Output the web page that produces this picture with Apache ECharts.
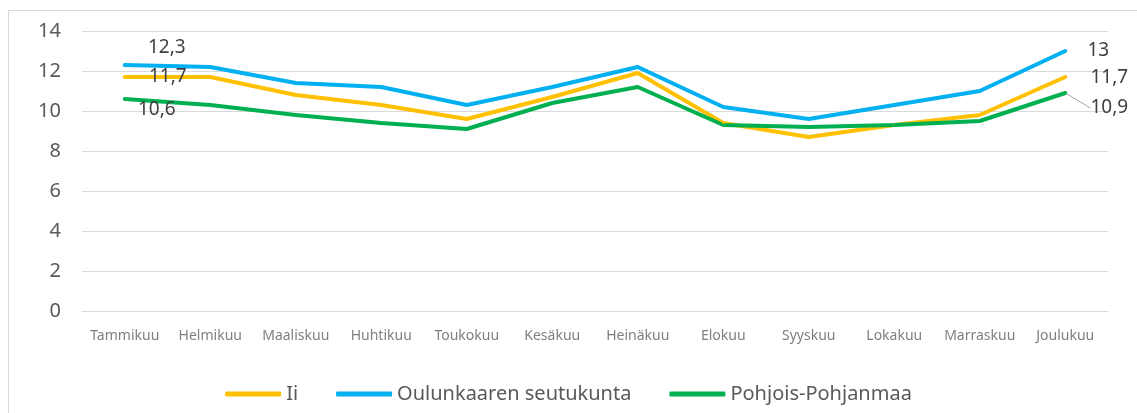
<!DOCTYPE html>
<html>
<head>
<meta charset="utf-8">
<script src="https://cdn.jsdelivr.net/npm/echarts@6/dist/echarts.min.js"></script>
<style>
  html, body { margin: 0; padding: 0; background: #fff; }
  /* kehys kaavion ympärillä */
  #frame {
    position: absolute; left: 8px; top: 10px; width: 1129px; height: 403px;
    border-left: 1px solid #d9d9d9; border-top: 1px solid #d9d9d9;
  }
  #chart { position: absolute; left: 0; top: 0; width: 1137px; height: 413px; }
</style>
</head>
<body>
<div id="frame"></div>
<div id="chart"></div>
<script>
const months = ["Tammikuu", "Helmikuu", "Maaliskuu", "Huhtikuu", "Toukokuu", "Kesäkuu",
  "Heinäkuu", "Elokuu", "Syyskuu", "Lokakuu", "Marraskuu", "Joulukuu"];
const ii = [11.7, 11.7, 10.8, 10.3, 9.6, 10.7, 11.9, 9.4, 8.7, 9.3, 9.8, 11.7];
const oulunkaari = [12.3, 12.2, 11.4, 11.2, 10.3, 11.2, 12.2, 10.2, 9.6, 10.3, 11.0, 13];
const pohjois = [10.6, 10.3, 9.8, 9.4, 9.1, 10.4, 11.2, 9.3, 9.2, 9.3, 9.5, 10.9];
const yTicks = [0, 2, 4, 6, 8, 10, 12, 14];

const fmt = v => String(v).replace(".", ",");

// label vain ensimmäiseen ja viimeiseen pisteeseen
function withLabels(values, firstOffset, lastOffset) {
  return values.map((v, i) => {
    if (i === 0 || i === values.length - 1) {
      const off = i === 0 ? firstOffset : lastOffset;
      return {
        value: v,
        label: {
          show: true, position: "inside", offset: off,
          formatter: p => fmt(p.value),
          color: "#404040", fontSize: 19, fontFamily: "Noto Sans"
        }
      };
    }
    return v;
  });
}

function lineSeries(name, color, data) {
  return {
    name: name,
    type: "line",
    data: data,
    symbol: "circle",
    symbolSize: 2,
    itemStyle: { color: color },
    lineStyle: { width: 4, color: color, cap: "round", join: "round" },
    emphasis: { disabled: true },
    animation: false
  };
}

const chart = echarts.init(document.getElementById("chart"));

// vihreän sarjan labelit siirretään labelLayoutilla, viimeiseen ohjausviiva
const greenData = withLabels(pohjois, [0, 0], [0, 0]);
greenData[greenData.length - 1].labelLine = {
  show: true, lineStyle: { color: "#a6a6a6", width: 1 }
};

const greenSeries = lineSeries("Pohjois-Pohjanmaa", "#00b050", greenData);
greenSeries.labelLayout = p => {
  if (p.dataIndex === 0) return { dx: 32, dy: 11 };
  if (p.dataIndex === pohjois.length - 1) return { dx: 44, dy: 15 };
  return {};
};

chart.setOption({
  backgroundColor: "transparent",
  grid: { left: 82, right: 29, top: 31, bottom: 102 },
  xAxis: {
    type: "category",
    data: months,
    boundaryGap: true,
    axisLine: { show: true, lineStyle: { color: "#d9d9d9", width: 1 } },
    axisTick: { show: false },
    axisLabel: {
      interval: 0, margin: 18, color: "#7f7f7f", fontSize: 14, fontFamily: "Noto Sans"
    }
  },
  yAxis: {
    type: "value",
    min: yTicks[0],
    max: yTicks[yTicks.length - 1],
    interval: 2,
    axisLine: { show: false },
    axisTick: { show: false },
    splitLine: { lineStyle: { color: "#d9d9d9", width: 1 } },
    axisLabel: { margin: 21, color: "#595959", fontSize: 20, fontFamily: "Noto Sans" }
  },
  legend: {
    bottom: 4,
    left: "center",
    icon: "roundRect",
    itemWidth: 56,
    itemHeight: 5,
    itemGap: 38,
    textStyle: { color: "#595959", fontSize: 20, fontFamily: "Noto Sans" },
    data: ["Ii", "Oulunkaaren seutukunta", "Pohjois-Pohjanmaa"]
  },
  series: [
    lineSeries("Ii", "#ffc000", withLabels(ii, [43, 0], [44, 1])),
    lineSeries("Oulunkaaren seutukunta", "#00b0f0", withLabels(oulunkaari, [42, -17], [33, 0])),
    greenSeries
  ]
});
</script>
</body>
</html>
